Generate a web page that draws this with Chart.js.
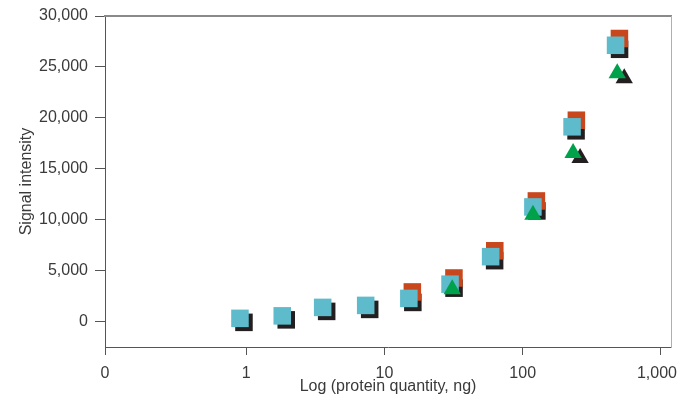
<!DOCTYPE html>
<html><head><meta charset="utf-8">
<script src="https://cdn.jsdelivr.net/npm/chart.js@4/dist/chart.umd.min.js"></script>
<style>html,body{margin:0;padding:0;background:#fff;}#wrap{width:677px;height:395px;position:relative;}</style>
</head><body><div id="wrap"><canvas id="c" width="677" height="395"></canvas></div>
<script>
// protein quantity (ng) and signal intensity
const blueX  = [0.90, 1.82, 3.57, 7.31, 15.0, 29.8, 58.6, 118.5, 227.6, 469.7];
const blueY  = [313, 558, 1389, 1585, 2270, 3669, 6370, 11253, 19120, 27125];
const redX   = [15.9, 31.8, 62.8, 125.6, 244.5, 501];
const redY   = [2906, 4276, 6947, 11840, 19766, 27790];
const greenX = [30.9, 118.6, 231.5, 483];
const greenY = [3170, 10490, 16537, 24386];

const xMin = 0.095, xMax = 1183;
const xTickValues = [xMin, 1, 10, 100, 1000];
const xTickLabels = ['0', '1', '10', '100', '1,000'];
const yTickValues = [0, 5000, 10000, 15000, 20000, 25000, 30000];
const yMin = -2500, yMax = 30000;

const pts = (xs, ys) => xs.map((x, i) => ({x: x, y: ys[i]}));

const COL_BLUE = '#5ebbcb', COL_RED = '#c9471c', COL_GREEN = '#00a14b', COL_DARK = '#231f20';
const TXT = '#3a3a3a';
const FONT = {family: '"Liberation Sans", Arial, sans-serif', size: 16};

// a triangle's drop shadow is only shown when it does not sit on top of a square
const triShadowRadius = ctx => {
  const p = ctx.raw; if (!p) return 0;
  const onSquare = blueX.some((bx, i) => Math.abs(Math.log10(bx / p.x)) < 0.05 && Math.abs(blueY[i] - p.y) < 1500);
  return onSquare ? 0 : 10;
};

const offsetPlugin = {
  id: 'offsetDraw',
  beforeDatasetDraw(chart, args) {
    const ds = chart.data.datasets[args.index];
    if (ds.drawOffset) { chart.ctx.save(); chart.ctx.translate(ds.drawOffset[0], ds.drawOffset[1]); }
  },
  afterDatasetDraw(chart, args) {
    const ds = chart.data.datasets[args.index];
    if (ds.drawOffset) chart.ctx.restore();
  }
};

new Chart(document.getElementById('c'), {
  type: 'scatter',
  data: {
    datasets: [
      {label: 'triangle shadow', data: pts(greenX, greenY), pointStyle: 'triangle', pointRadius: triShadowRadius,
       backgroundColor: COL_DARK, pointBorderWidth: 0, drawOffset: [7, 5], order: 5},
      {label: 'square shadow', data: pts(blueX, blueY), pointStyle: 'rect', pointRadius: 12.4,
       backgroundColor: COL_DARK, pointBorderWidth: 0, drawOffset: [4, 4], order: 4},
      {label: 'red', data: pts(redX, redY), pointStyle: 'rect', pointRadius: 12.4,
       backgroundColor: COL_RED, pointBorderWidth: 0, order: 3},
      {label: 'blue', data: pts(blueX, blueY), pointStyle: 'rect', pointRadius: 12.4,
       backgroundColor: COL_BLUE, pointBorderWidth: 0, order: 2},
      {label: 'green', data: pts(greenX, greenY), pointStyle: 'triangle', pointRadius: 10,
       backgroundColor: COL_GREEN, pointBorderWidth: 0, order: 1}
    ]
  },
  options: {
    responsive: false,
    animation: false,
    devicePixelRatio: 1,
    layout: {autoPadding: false, padding: {top: 16, right: 6, bottom: 0, left: 0}},
    plugins: {legend: {display: false}, tooltip: {enabled: false}},
    scales: {
      x: {
        type: 'logarithmic', position: 'bottom', min: xMin, max: xMax,
        afterBuildTicks: s => { s.ticks = xTickValues.map(v => ({value: v})); },
        afterFit: s => { s.height = 48; s.paddingLeft = 0; s.paddingRight = 0; },
        ticks: {
          autoSkip: false, maxRotation: 0, color: TXT, font: FONT, padding: 9,
          callback: (v, i) => i === xTickLabels.length - 1 ? xTickLabels[i] + '\u2002' : xTickLabels[i]
        },
        grid: {drawOnChartArea: false, drawTicks: true, tickLength: 8, color: '#555'},
        border: {color: '#555', width: 1},
        title: {display: true, text: 'Log (protein quantity, ng)', color: TXT,
                font: Object.assign({}, FONT, {lineHeight: 1}), padding: {top: 0, bottom: 0}}
      },
      y: {
        type: 'linear', position: 'left', min: yMin, max: yMax,
        afterBuildTicks: s => { s.ticks = yTickValues.map(v => ({value: v})); },
        afterFit: s => { s.width = 105; s.paddingTop = 0; s.paddingBottom = 0; },
        ticks: {color: TXT, font: FONT, padding: 7,
                callback: v => v.toLocaleString('en-US')},
        grid: {drawOnChartArea: false, drawTicks: true, tickLength: 10, color: '#555'},
        border: {color: '#555', width: 1},
        title: {display: true, text: 'Signal intensity', color: TXT,
                font: Object.assign({}, FONT, {lineHeight: 1}), padding: {top: 19, bottom: 0}}
      },
      xTop: {
        type: 'linear', position: 'top', display: true,
        afterFit: s => { s.height = 0; s.paddingLeft = 0; s.paddingRight = 0; },
        ticks: {display: false}, grid: {drawOnChartArea: false, drawTicks: false},
        border: {color: '#8a8a8a', width: 2}
      },
      yRight: {
        type: 'linear', position: 'right', display: true,
        afterFit: s => { s.width = 0; s.paddingTop = 0; s.paddingBottom = 0; },
        ticks: {display: false}, grid: {drawOnChartArea: false, drawTicks: false},
        border: {color: '#b0b0b0', width: 1}
      }
    }
  },
  plugins: [offsetPlugin]
});
</script></body></html>
